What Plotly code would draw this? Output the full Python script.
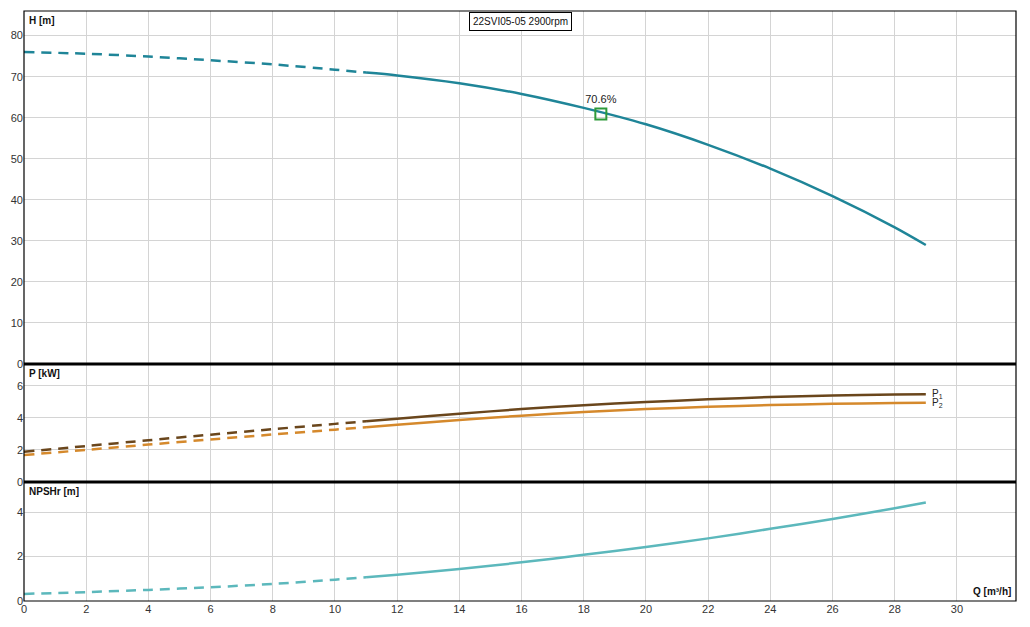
import plotly.graph_objects as go

# Q [m3/h]
q_dash = [0, 2, 4, 6, 8, 10, 11]
q_solid = [11, 12, 14, 16, 18, 20, 22, 24, 26, 28, 29]

# H [m]
h_dash = [76.0, 75.6, 74.9, 74.0, 73.0, 71.7, 71.0]
h_solid = [71.0, 70.3, 68.4, 65.8, 62.4, 58.4, 53.4, 47.6, 40.9, 33.3, 29.0]

# P1 / P2 [kW]
p1_dash = [1.88, 2.24, 2.6, 2.95, 3.29, 3.62, 3.78]
p1_solid = [3.78, 3.94, 4.25, 4.54, 4.78, 4.98, 5.15, 5.29, 5.39, 5.45, 5.47]
p2_dash = [1.68, 2.0, 2.33, 2.65, 2.96, 3.26, 3.41]
p2_solid = [3.41, 3.56, 3.86, 4.13, 4.36, 4.54, 4.68, 4.79, 4.87, 4.92, 4.94]

# NPSHr [m]
npsh_dash = [0.32, 0.4, 0.5, 0.62, 0.77, 0.96, 1.07]
npsh_solid = [1.07, 1.18, 1.44, 1.74, 2.08, 2.43, 2.82, 3.25, 3.69, 4.18, 4.44]

# punto di lavoro
bep_q = [18.55]
bep_h = [60.9]
bep_label = "70.6%"

titolo = "22SVI05-05 2900rpm"

col_h = "#1f8598"
col_p1 = "#6a461c"
col_p2 = "#d5892c"
col_npsh = "#5cb8bc"
griglia = "#d4d4d4"
dash = "10px,7px"

fig = go.Figure()

def curva(x, y, col, asse, tratteggio):
    fig.add_trace(go.Scatter(
        x=x, y=y, mode="lines",
        line=dict(color=col, width=2.5, dash=tratteggio, shape="spline", smoothing=0.8),
        xaxis=asse[0], yaxis=asse[1], showlegend=False, hoverinfo="skip"))

curva(q_dash, h_dash, col_h, ("x", "y"), dash)
curva(q_solid, h_solid, col_h, ("x", "y"), "solid")
curva(q_dash, p1_dash, col_p1, ("x2", "y2"), dash)
curva(q_solid, p1_solid, col_p1, ("x2", "y2"), "solid")
curva(q_dash, p2_dash, col_p2, ("x2", "y2"), dash)
curva(q_solid, p2_solid, col_p2, ("x2", "y2"), "solid")
curva(q_dash, npsh_dash, col_npsh, ("x3", "y3"), dash)
curva(q_solid, npsh_solid, col_npsh, ("x3", "y3"), "solid")

fig.add_trace(go.Scatter(
    x=bep_q, y=bep_h, mode="markers+text", text=[bep_label], textposition="top center",
    textfont=dict(size=11, color="#222"),
    marker=dict(symbol="square-open", size=11, color="#2e9a3a", line=dict(width=2)),
    showlegend=False, hoverinfo="skip"))

# posizione dei pannelli (frazioni del foglio)
d_np = (0, 0.2017)
d_p = (0.2017, 0.4017)
d_h = (0.4017, 1)

tick_font = dict(family="Liberation Sans, Arial", size=11, color="#333")
x_comune = dict(range=[0, 31.9], dtick=2, showgrid=True, gridcolor=griglia, zeroline=False,
                showline=False, ticks="", automargin=False)
y_comune = dict(gridcolor=griglia, zeroline=False, tickfont=tick_font, ticks="", automargin=False)

# la pagina ha 8px di margine: figura ridotta di conseguenza
fig.update_layout(
    width=1014, height=611,
    margin=dict(l=16, r=6, t=3, b=18),
    paper_bgcolor="white", plot_bgcolor="white",
    font=dict(family="Liberation Sans, Arial", size=11, color="#222"),
    xaxis=dict(**x_comune, anchor="y", showticklabels=False),
    xaxis2=dict(**x_comune, anchor="y2", matches="x", showticklabels=False),
    xaxis3=dict(**x_comune, anchor="y3", matches="x", showticklabels=True, tickfont=tick_font),
    yaxis=dict(**y_comune, domain=d_h, range=[0, 86], dtick=10),
    yaxis2=dict(**y_comune, domain=d_p, range=[0, 7.35], dtick=2),
    yaxis3=dict(**y_comune, domain=d_np, range=[0, 5.36], dtick=2),
)

# bordi e separatori
fig.add_shape(type="rect", xref="paper", yref="paper", x0=0, x1=1, y0=0, y1=1,
              line=dict(color="black", width=1.2))
for yy in (d_p[1], d_np[1]):
    fig.add_shape(type="line", xref="paper", yref="paper", x0=0, x1=1, y0=yy, y1=yy,
                  line=dict(color="black", width=3))

bold = dict(family="Liberation Sans, Arial", size=10, color="#111")
fig.add_annotation(text="<b>H [m]</b>", xref="paper", yref="paper", x=0.003, y=0.997,
                   xanchor="left", yanchor="top", showarrow=False, font=bold)
fig.add_annotation(text="<b>P [kW]</b>", xref="paper", yref="paper", x=0.003, y=d_p[1] - 0.003,
                   xanchor="left", yanchor="top", showarrow=False, font=bold)
fig.add_annotation(text="<b>NPSHr [m]</b>", xref="paper", yref="paper", x=0.003, y=d_np[1] - 0.003,
                   xanchor="left", yanchor="top", showarrow=False, font=bold)
fig.add_annotation(text="<b>Q [m³/h]</b>", xref="paper", yref="paper", x=0.997, y=0.003,
                   xanchor="right", yanchor="bottom", showarrow=False, font=bold)

# etichette P1 / P2 a fine curva
fig.add_annotation(text="P<sub>1</sub>", x=q_solid[-1] + 0.15, y=p1_solid[-1], xref="x2", yref="y2",
                   xanchor="left", yanchor="middle", showarrow=False,
                   font=dict(family="Liberation Sans, Arial", size=10, color="#222"))
fig.add_annotation(text="P<sub>2</sub>", x=q_solid[-1] + 0.15, y=p2_solid[-1], xref="x2", yref="y2",
                   xanchor="left", yanchor="middle", showarrow=False,
                   font=dict(family="Liberation Sans, Arial", size=10, color="#222"))

# titolo in riquadro
fig.add_annotation(text=titolo, xref="paper", yref="paper", x=0.5, y=0.998,
                   xanchor="center", yanchor="top", showarrow=False,
                   font=dict(family="Liberation Sans, Arial", size=10, color="#111"),
                   bgcolor="white", bordercolor="black", borderwidth=1, borderpad=3)

fig.write_html("out.html")
